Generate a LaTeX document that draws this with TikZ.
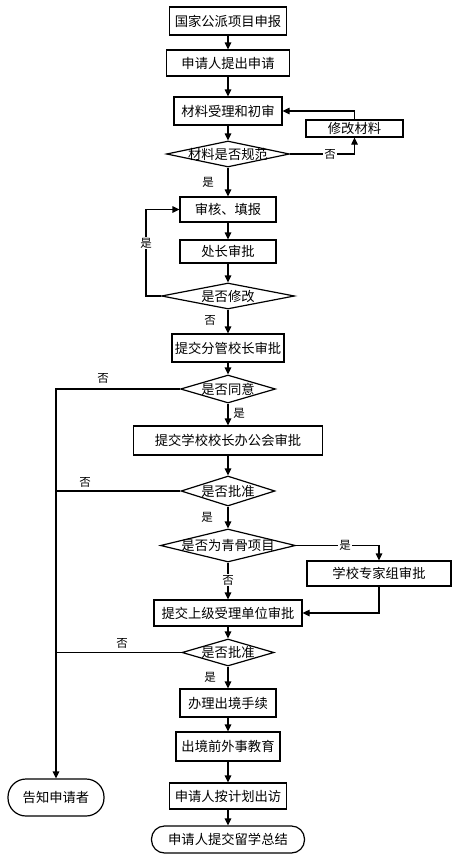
\documentclass[tikz,border=0pt]{standalone}
\usepackage{fontspec}
\newfontfamily\cjk{Noto Sans CJK SC}
\usetikzlibrary{shapes.geometric,arrows.meta}
\begin{document}
\begin{tikzpicture}[x=1pt,y=-1pt,
  every node/.style={font=\cjk\fontsize{13.3}{15}\selectfont},
  box/.style={draw,line width=1.2pt,rectangle,inner sep=0pt},
  term/.style={draw,line width=1.2pt,rectangle,rounded corners=13pt,inner sep=0pt},
  dia/.style={draw,line width=1.2pt,diamond,inner sep=0pt},
  txt/.style={inner sep=0pt},
  lab/.style={inner sep=1pt,font=\cjk\fontsize{11.5}{12}\selectfont},
  labw/.style={lab,fill=white},
  conn/.style={line width=1.2pt},
  arr/.style={conn,-{Triangle[length=7pt,width=6.5pt]}}]
\useasboundingbox[fill=white] (0,0) rectangle (461,862);
% boxes
\node[box,minimum width=117,minimum height=28] (b1) at (228,21) {国家公派项目申报};
\node[box,minimum width=123,minimum height=26] (b2) at (228,63) {申请人提出申请};
\node[box,minimum width=108,minimum height=28] (b3) at (228,111) {材料受理和初审};
\node[box,minimum width=97,minimum height=17] (fix) at (354.5,128.5) {修改材料};
\node[dia,minimum width=123,minimum height=26] (d1) at (228,154) {};
\node[txt] (d1t) at (d1) {材料是否规范};
\node[box,minimum width=96,minimum height=25] (b4) at (228,209.5) {审核、填报};
\node[box,minimum width=96,minimum height=23] (b5) at (228,251.5) {处长审批};
\node[dia,minimum width=133,minimum height=26] (d2) at (228,296) {};
\node[txt] (d2t) at (d2) {是否修改};
\node[box,minimum width=112,minimum height=28] (b6) at (228,348) {提交分管校长审批};
\node[dia,minimum width=95,minimum height=28] (d3) at (228,389) {};
\node[txt] (d3t) at (d3) {是否同意};
\node[box,minimum width=189,minimum height=29] (b7) at (228,440.5) {提交学校校长办公会审批};
\node[dia,minimum width=94,minimum height=30] (d4) at (228,491) {};
\node[txt] (d4t) at (d4) {是否批准};
\node[dia,minimum width=135,minimum height=33] (d5) at (228,545.5) {};
\node[txt] (d5t) at (d5) {是否为青骨项目};
\node[box,minimum width=144,minimum height=25] (b8) at (379,573.5) {学校专家组审批};
\node[box,minimum width=148,minimum height=26] (b9) at (228,613) {提交上级受理单位审批};
\node[dia,minimum width=92,minimum height=27] (d6) at (228,652.5) {};
\node[txt] (d6t) at (d6) {是否批准};
\node[box,minimum width=96,minimum height=28] (b10) at (228,703) {办理出境手续};
\node[box,minimum width=104,minimum height=29] (b11) at (228,746.5) {出境前外事教育};
\node[box,minimum width=117,minimum height=26] (b12) at (228,796) {申请人按计划出访};
\node[term,minimum width=153,minimum height=27] (t1) at (228,839.5) {申请人提交留学总结};
\node[term,rounded corners=18pt,minimum width=96,minimum height=37] (t2) at (56,797.5) {告知申请者};
% helper coordinates
\coordinate (c2) at (146,296);
\coordinate (L4) at (56,491);
\coordinate (L6) at (56,652.5);
% main flow
\draw[arr] (b1) -- (b2);
\draw[arr] (b2) -- (b3);
\draw[arr] (b3) -- (d1);
\draw[arr] (d1) -- (b4);
\draw[arr] (b4) -- (b5);
\draw[arr] (b5) -- (d2);
\draw[arr] (d2) -- (b6);
\draw[arr] (b6) -- (d3);
\draw[arr] (d3) -- (b7);
\draw[arr] (b7) -- (d4);
\draw[arr] (d4) -- (d5);
\draw[arr] (d5) -- (b9);
\draw[arr] (b9) -- (d6);
\draw[arr] (d6) -- (b10);
\draw[arr] (b10) -- (b11);
\draw[arr] (b11) -- (b12);
\draw[arr] (b12) -- (t1);
% loops
\draw[arr] (d1.east) -| (fix.south);
\draw[arr] (fix.north) |- (b3.east);
\draw[arr] (d2.west) -- (c2) |- (b4.west);
\draw[arr] (d5.east) -| (b8.north);
\draw[arr] (b8.south) |- (b9.east);
% left column
\draw[arr] (d3.west) -| (t2.north);
\draw[conn] (d4.west) -- (L4);
\draw[conn] (d6.west) -- (L6);
% labels
\node[labw] (l1) at (330,154) {否};
\node[lab] (l2) at (208,182) {是};
\node[labw] (l3) at (146,243) {是};
\node[lab] (l4) at (210,320) {否};
\node[lab] (l5) at (103,378) {否};
\node[lab] (l6) at (239,413) {是};
\node[lab] (l7) at (85,482) {否};
\node[lab] (l8) at (207,517) {是};
\node[labw] (l9) at (345,545.5) {是};
\node[labw] (l10) at (228,580) {否};
\node[lab] (l11) at (122,643) {否};
\node[lab] (l12) at (210,677) {是};
\end{tikzpicture}
\end{document}
